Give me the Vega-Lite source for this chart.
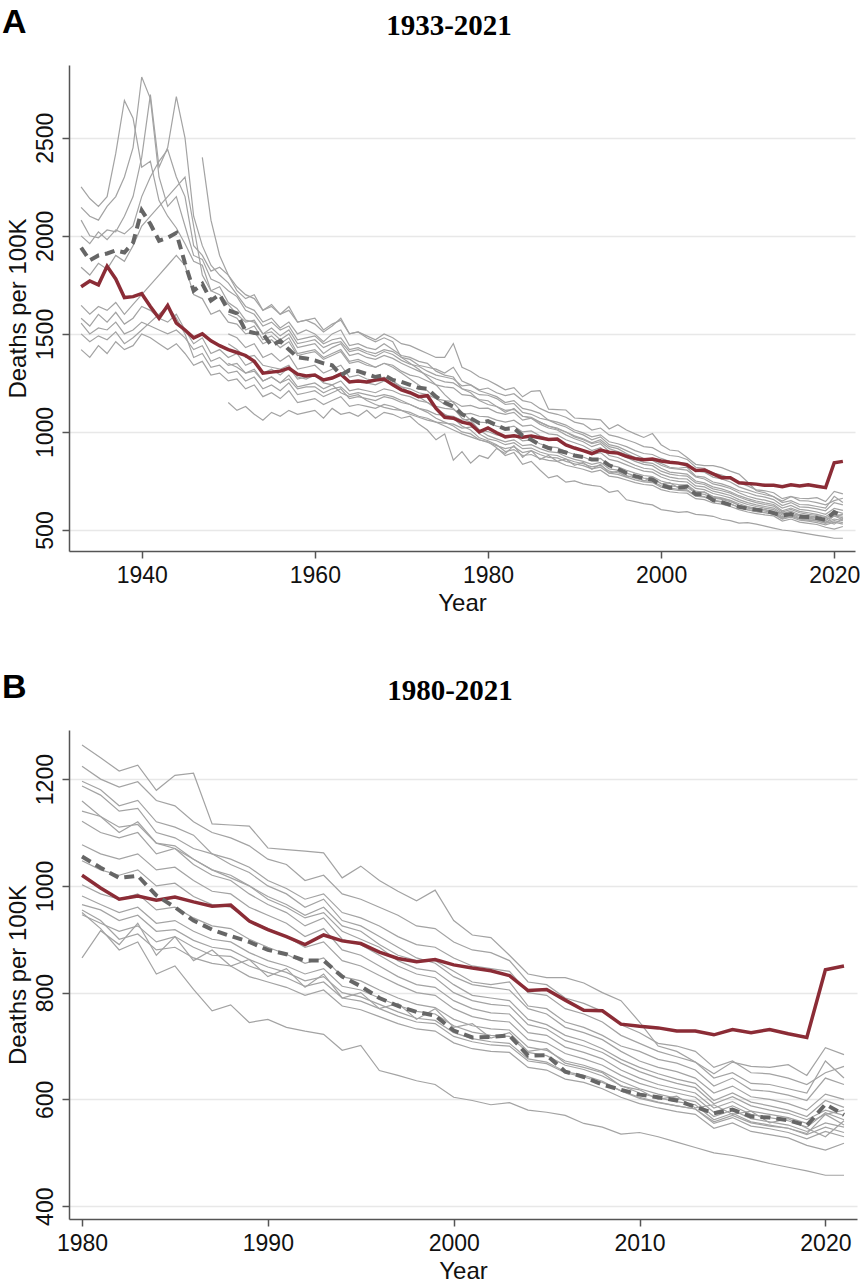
{
"$schema": "https://vega.github.io/schema/vega-lite/v6.json",
"background": "white",
"padding": {"left": 2, "top": 6, "right": 0, "bottom": 0},
"config": {
  "view": {"stroke": null},
  "font": "Liberation Sans",
  "axis": {"labelFont": "Liberation Sans", "titleFont": "Liberation Sans", "labelFontSize": 23, "titleFontSize": 24, "titleFontWeight": "normal", "labelColor": "#111111", "titleColor": "#111111", "domainColor": "#555555", "domainWidth": 1.5, "tickColor": "#555555", "tickWidth": 1.5, "tickSize": 7, "gridColor": "#e8e8e8", "gridWidth": 1.5},
  "axisY": {"labelAngle": -90, "labelAlign": "center", "labelBaseline": "bottom", "labelPadding": 5, "titlePadding": 4},
  "axisX": {"grid": false, "labelPadding": 6, "titlePadding": 4}
},
"datasets": {"d": [
{"s":"a","t":1933,"v":2250},{"s":"a","t":1934,"v":2190},{"s":"a","t":1935,"v":2150},{"s":"a","t":1936,"v":2200},{"s":"a","t":1937,"v":2420},{"s":"a","t":1938,"v":2690},{"s":"a","t":1939,"v":2600},{"s":"a","t":1940,"v":2350},{"s":"a","t":1941,"v":2380},{"s":"a","t":1942,"v":2180},{"s":"a","t":1943,"v":2100},{"s":"a","t":1944,"v":2040},{"s":"a","t":1945,"v":1960},{"s":"a","t":1946,"v":1870},{"s":"a","t":1947,"v":1850},{"s":"a","t":1948,"v":1720},{"s":"a","t":1949,"v":1740},{"s":"a","t":1950,"v":1660},{"s":"a","t":1951,"v":1630},{"s":"a","t":1952,"v":1570},{"s":"a","t":1953,"v":1560},{"s":"a","t":1954,"v":1500},{"s":"a","t":1955,"v":1530},{"s":"a","t":1956,"v":1490},{"s":"a","t":1957,"v":1520},{"s":"a","t":1958,"v":1450},{"s":"a","t":1959,"v":1460},{"s":"a","t":1960,"v":1470},{"s":"a","t":1961,"v":1430},{"s":"a","t":1962,"v":1450},{"s":"a","t":1963,"v":1460},{"s":"a","t":1964,"v":1410},{"s":"a","t":1965,"v":1420},{"s":"a","t":1966,"v":1400},{"s":"a","t":1967,"v":1385},{"s":"a","t":1968,"v":1410},{"s":"a","t":1969,"v":1395},{"s":"a","t":1970,"v":1365},{"s":"a","t":1971,"v":1345},{"s":"a","t":1972,"v":1335},{"s":"a","t":1973,"v":1310},{"s":"a","t":1974,"v":1290},{"s":"a","t":1975,"v":1280},{"s":"a","t":1976,"v":1270},{"s":"a","t":1977,"v":1235},{"s":"a","t":1978,"v":1240},{"s":"a","t":1979,"v":1215},{"s":"a","t":1980,"v":1224},{"s":"a","t":1981,"v":1200},{"s":"a","t":1982,"v":1185},{"s":"a","t":1983,"v":1195},{"s":"a","t":1984,"v":1160},{"s":"a","t":1985,"v":1150},{"s":"a","t":1986,"v":1120},{"s":"a","t":1987,"v":1100},{"s":"a","t":1988,"v":1090},{"s":"a","t":1989,"v":1075},{"s":"a","t":1990,"v":1050},{"s":"a","t":1991,"v":1040},{"s":"a","t":1992,"v":1010},{"s":"a","t":1993,"v":1020},{"s":"a","t":1994,"v":985},{"s":"a","t":1995,"v":975},{"s":"a","t":1996,"v":960},{"s":"a","t":1997,"v":945},{"s":"a","t":1998,"v":925},{"s":"a","t":1999,"v":920},{"s":"a","t":2000,"v":895},{"s":"a","t":2001,"v":880},{"s":"a","t":2002,"v":875},{"s":"a","t":2003,"v":860},{"s":"a","t":2004,"v":820},{"s":"a","t":2005,"v":815},{"s":"a","t":2006,"v":790},{"s":"a","t":2007,"v":780},{"s":"a","t":2008,"v":765},{"s":"a","t":2009,"v":740},{"s":"a","t":2010,"v":725},{"s":"a","t":2011,"v":705},{"s":"a","t":2012,"v":700},{"s":"a","t":2013,"v":690},{"s":"a","t":2014,"v":660},{"s":"a","t":2015,"v":672},{"s":"a","t":2016,"v":650},{"s":"a","t":2017,"v":648},{"s":"a","t":2018,"v":640},{"s":"a","t":2019,"v":628},{"s":"a","t":2020,"v":650},{"s":"a","t":2021,"v":662},
{"s":"b","t":1933,"v":2145},{"s":"b","t":1934,"v":2100},{"s":"b","t":1935,"v":2080},{"s":"b","t":1936,"v":2150},{"s":"b","t":1937,"v":2200},{"s":"b","t":1938,"v":2300},{"s":"b","t":1939,"v":2450},{"s":"b","t":1940,"v":2810},{"s":"b","t":1941,"v":2700},{"s":"b","t":1942,"v":2300},{"s":"b","t":1943,"v":2150},{"s":"b","t":1944,"v":2200},{"s":"b","t":1945,"v":2050},{"s":"b","t":1946,"v":1900},{"s":"b","t":1947,"v":1880},{"s":"b","t":1948,"v":1780},{"s":"b","t":1949,"v":1760},{"s":"b","t":1950,"v":1720},{"s":"b","t":1951,"v":1690},{"s":"b","t":1952,"v":1620},{"s":"b","t":1953,"v":1600},{"s":"b","t":1954,"v":1540},{"s":"b","t":1955,"v":1560},{"s":"b","t":1956,"v":1520},{"s":"b","t":1957,"v":1540},{"s":"b","t":1958,"v":1470},{"s":"b","t":1959,"v":1480},{"s":"b","t":1960,"v":1490},{"s":"b","t":1961,"v":1450},{"s":"b","t":1962,"v":1470},{"s":"b","t":1963,"v":1480},{"s":"b","t":1964,"v":1420},{"s":"b","t":1965,"v":1430},{"s":"b","t":1966,"v":1410},{"s":"b","t":1967,"v":1400},{"s":"b","t":1968,"v":1420},{"s":"b","t":1969,"v":1410},{"s":"b","t":1970,"v":1380},{"s":"b","t":1971,"v":1370},{"s":"b","t":1972,"v":1340},{"s":"b","t":1973,"v":1330},{"s":"b","t":1974,"v":1320},{"s":"b","t":1975,"v":1300},{"s":"b","t":1976,"v":1330},{"s":"b","t":1977,"v":1260},{"s":"b","t":1978,"v":1240},{"s":"b","t":1979,"v":1210},{"s":"b","t":1980,"v":1196},{"s":"b","t":1981,"v":1180},{"s":"b","t":1982,"v":1150},{"s":"b","t":1983,"v":1160},{"s":"b","t":1984,"v":1120},{"s":"b","t":1985,"v":1110},{"s":"b","t":1986,"v":1095},{"s":"b","t":1987,"v":1060},{"s":"b","t":1988,"v":1050},{"s":"b","t":1989,"v":1035},{"s":"b","t":1990,"v":1010},{"s":"b","t":1991,"v":995},{"s":"b","t":1992,"v":975},{"s":"b","t":1993,"v":985},{"s":"b","t":1994,"v":950},{"s":"b","t":1995,"v":940},{"s":"b","t":1996,"v":925},{"s":"b","t":1997,"v":905},{"s":"b","t":1998,"v":890},{"s":"b","t":1999,"v":885},{"s":"b","t":2000,"v":865},{"s":"b","t":2001,"v":850},{"s":"b","t":2002,"v":845},{"s":"b","t":2003,"v":840},{"s":"b","t":2004,"v":800},{"s":"b","t":2005,"v":795},{"s":"b","t":2006,"v":770},{"s":"b","t":2007,"v":760},{"s":"b","t":2008,"v":745},{"s":"b","t":2009,"v":720},{"s":"b","t":2010,"v":705},{"s":"b","t":2011,"v":690},{"s":"b","t":2012,"v":680},{"s":"b","t":2013,"v":670},{"s":"b","t":2014,"v":640},{"s":"b","t":2015,"v":650},{"s":"b","t":2016,"v":630},{"s":"b","t":2017,"v":628},{"s":"b","t":2018,"v":620},{"s":"b","t":2019,"v":612},{"s":"b","t":2020,"v":672},{"s":"b","t":2021,"v":640},
{"s":"c","t":1933,"v":2080},{"s":"c","t":1934,"v":2000},{"s":"c","t":1935,"v":1990},{"s":"c","t":1936,"v":2030},{"s":"c","t":1937,"v":2020},{"s":"c","t":1938,"v":2100},{"s":"c","t":1939,"v":2200},{"s":"c","t":1940,"v":2400},{"s":"c","t":1941,"v":2720},{"s":"c","t":1942,"v":2350},{"s":"c","t":1943,"v":2450},{"s":"c","t":1944,"v":2710},{"s":"c","t":1945,"v":2500},{"s":"c","t":1946,"v":2100},{"s":"c","t":1947,"v":1950},{"s":"c","t":1948,"v":1850},{"s":"c","t":1949,"v":1800},{"s":"c","t":1950,"v":1760},{"s":"c","t":1951,"v":1700},{"s":"c","t":1952,"v":1640},{"s":"c","t":1953,"v":1620},{"s":"c","t":1954,"v":1560},{"s":"c","t":1955,"v":1580},{"s":"c","t":1956,"v":1530},{"s":"c","t":1957,"v":1560},{"s":"c","t":1958,"v":1500},{"s":"c","t":1959,"v":1520},{"s":"c","t":1960,"v":1500},{"s":"c","t":1961,"v":1460},{"s":"c","t":1962,"v":1500},{"s":"c","t":1963,"v":1520},{"s":"c","t":1964,"v":1440},{"s":"c","t":1965,"v":1450},{"s":"c","t":1966,"v":1430},{"s":"c","t":1967,"v":1420},{"s":"c","t":1968,"v":1450},{"s":"c","t":1969,"v":1420},{"s":"c","t":1970,"v":1390},{"s":"c","t":1971,"v":1380},{"s":"c","t":1972,"v":1360},{"s":"c","t":1973,"v":1350},{"s":"c","t":1974,"v":1310},{"s":"c","t":1975,"v":1290},{"s":"c","t":1976,"v":1280},{"s":"c","t":1977,"v":1220},{"s":"c","t":1978,"v":1200},{"s":"c","t":1979,"v":1160},{"s":"c","t":1980,"v":1140},{"s":"c","t":1981,"v":1130},{"s":"c","t":1982,"v":1100},{"s":"c","t":1983,"v":1120},{"s":"c","t":1984,"v":1080},{"s":"c","t":1985,"v":1075},{"s":"c","t":1986,"v":1050},{"s":"c","t":1987,"v":1030},{"s":"c","t":1988,"v":1020},{"s":"c","t":1989,"v":1000},{"s":"c","t":1990,"v":980},{"s":"c","t":1991,"v":965},{"s":"c","t":1992,"v":945},{"s":"c","t":1993,"v":960},{"s":"c","t":1994,"v":925},{"s":"c","t":1995,"v":915},{"s":"c","t":1996,"v":890},{"s":"c","t":1997,"v":870},{"s":"c","t":1998,"v":860},{"s":"c","t":1999,"v":860},{"s":"c","t":2000,"v":840},{"s":"c","t":2001,"v":820},{"s":"c","t":2002,"v":815},{"s":"c","t":2003,"v":820},{"s":"c","t":2004,"v":775},{"s":"c","t":2005,"v":770},{"s":"c","t":2006,"v":745},{"s":"c","t":2007,"v":735},{"s":"c","t":2008,"v":720},{"s":"c","t":2009,"v":700},{"s":"c","t":2010,"v":690},{"s":"c","t":2011,"v":675},{"s":"c","t":2012,"v":668},{"s":"c","t":2013,"v":655},{"s":"c","t":2014,"v":625},{"s":"c","t":2015,"v":640},{"s":"c","t":2016,"v":618},{"s":"c","t":2017,"v":615},{"s":"c","t":2018,"v":608},{"s":"c","t":2019,"v":598},{"s":"c","t":2020,"v":640},{"s":"c","t":2021,"v":628},
{"s":"d","t":1933,"v":2000},{"s":"d","t":1934,"v":1960},{"s":"d","t":1935,"v":2020},{"s":"d","t":1936,"v":1980},{"s":"d","t":1937,"v":2030},{"s":"d","t":1938,"v":2010},{"s":"d","t":1939,"v":2050},{"s":"d","t":1940,"v":2200},{"s":"d","t":1941,"v":2300},{"s":"d","t":1942,"v":2380},{"s":"d","t":1943,"v":2440},{"s":"d","t":1944,"v":2300},{"s":"d","t":1945,"v":2200},{"s":"d","t":1946,"v":1950},{"s":"d","t":1947,"v":1900},{"s":"d","t":1948,"v":1820},{"s":"d","t":1949,"v":1840},{"s":"d","t":1950,"v":1800},{"s":"d","t":1951,"v":1740},{"s":"d","t":1952,"v":1700},{"s":"d","t":1953,"v":1680},{"s":"d","t":1954,"v":1620},{"s":"d","t":1955,"v":1640},{"s":"d","t":1956,"v":1600},{"s":"d","t":1957,"v":1620},{"s":"d","t":1958,"v":1560},{"s":"d","t":1959,"v":1570},{"s":"d","t":1960,"v":1550},{"s":"d","t":1961,"v":1510},{"s":"d","t":1962,"v":1540},{"s":"d","t":1963,"v":1580},{"s":"d","t":1964,"v":1500},{"s":"d","t":1965,"v":1510},{"s":"d","t":1966,"v":1490},{"s":"d","t":1967,"v":1470},{"s":"d","t":1968,"v":1500},{"s":"d","t":1969,"v":1480},{"s":"d","t":1970,"v":1450},{"s":"d","t":1971,"v":1440},{"s":"d","t":1972,"v":1420},{"s":"d","t":1973,"v":1400},{"s":"d","t":1974,"v":1380},{"s":"d","t":1975,"v":1380},{"s":"d","t":1976,"v":1451},{"s":"d","t":1977,"v":1330},{"s":"d","t":1978,"v":1310},{"s":"d","t":1979,"v":1280},{"s":"d","t":1980,"v":1264},{"s":"d","t":1981,"v":1240},{"s":"d","t":1982,"v":1215},{"s":"d","t":1983,"v":1226},{"s":"d","t":1984,"v":1179},{"s":"d","t":1985,"v":1207},{"s":"d","t":1986,"v":1211},{"s":"d","t":1987,"v":1116},{"s":"d","t":1988,"v":1114},{"s":"d","t":1989,"v":1112},{"s":"d","t":1990,"v":1071},{"s":"d","t":1991,"v":1068},{"s":"d","t":1992,"v":1065},{"s":"d","t":1993,"v":1062},{"s":"d","t":1994,"v":1015},{"s":"d","t":1995,"v":1037},{"s":"d","t":1996,"v":1010},{"s":"d","t":1997,"v":990},{"s":"d","t":1998,"v":972},{"s":"d","t":1999,"v":992},{"s":"d","t":2000,"v":935},{"s":"d","t":2001,"v":908},{"s":"d","t":2002,"v":903},{"s":"d","t":2003,"v":870},{"s":"d","t":2004,"v":835},{"s":"d","t":2005,"v":828},{"s":"d","t":2006,"v":828},{"s":"d","t":2007,"v":818},{"s":"d","t":2008,"v":800},{"s":"d","t":2009,"v":785},{"s":"d","t":2010,"v":745},{"s":"d","t":2011,"v":700},{"s":"d","t":2012,"v":690},{"s":"d","t":2013,"v":670},{"s":"d","t":2014,"v":648},{"s":"d","t":2015,"v":670},{"s":"d","t":2016,"v":662},{"s":"d","t":2017,"v":660},{"s":"d","t":2018,"v":665},{"s":"d","t":2019,"v":645},{"s":"d","t":2020,"v":697},{"s":"d","t":2021,"v":684},
{"s":"e","t":1933,"v":1840},{"s":"e","t":1934,"v":1800},{"s":"e","t":1935,"v":1860},{"s":"e","t":1936,"v":1830},{"s":"e","t":1937,"v":1900},{"s":"e","t":1938,"v":1870},{"s":"e","t":1939,"v":1950},{"s":"e","t":1940,"v":2050},{"s":"e","t":1941,"v":2100},{"s":"e","t":1942,"v":2150},{"s":"e","t":1943,"v":2200},{"s":"e","t":1944,"v":2250},{"s":"e","t":1945,"v":2300},{"s":"e","t":1946,"v":2050},{"s":"e","t":1947,"v":1800},{"s":"e","t":1948,"v":1720},{"s":"e","t":1949,"v":1700},{"s":"e","t":1950,"v":1650},{"s":"e","t":1951,"v":1600},{"s":"e","t":1952,"v":1560},{"s":"e","t":1953,"v":1570},{"s":"e","t":1954,"v":1500},{"s":"e","t":1955,"v":1510},{"s":"e","t":1956,"v":1470},{"s":"e","t":1957,"v":1500},{"s":"e","t":1958,"v":1430},{"s":"e","t":1959,"v":1440},{"s":"e","t":1960,"v":1450},{"s":"e","t":1961,"v":1400},{"s":"e","t":1962,"v":1430},{"s":"e","t":1963,"v":1450},{"s":"e","t":1964,"v":1390},{"s":"e","t":1965,"v":1400},{"s":"e","t":1966,"v":1380},{"s":"e","t":1967,"v":1370},{"s":"e","t":1968,"v":1390},{"s":"e","t":1969,"v":1375},{"s":"e","t":1970,"v":1350},{"s":"e","t":1971,"v":1330},{"s":"e","t":1972,"v":1310},{"s":"e","t":1973,"v":1290},{"s":"e","t":1974,"v":1270},{"s":"e","t":1975,"v":1255},{"s":"e","t":1976,"v":1250},{"s":"e","t":1977,"v":1220},{"s":"e","t":1978,"v":1210},{"s":"e","t":1979,"v":1190},{"s":"e","t":1980,"v":1187},{"s":"e","t":1981,"v":1170},{"s":"e","t":1982,"v":1140},{"s":"e","t":1983,"v":1145},{"s":"e","t":1984,"v":1100},{"s":"e","t":1985,"v":1090},{"s":"e","t":1986,"v":1070},{"s":"e","t":1987,"v":1060},{"s":"e","t":1988,"v":1040},{"s":"e","t":1989,"v":1025},{"s":"e","t":1990,"v":1000},{"s":"e","t":1991,"v":985},{"s":"e","t":1992,"v":960},{"s":"e","t":1993,"v":975},{"s":"e","t":1994,"v":935},{"s":"e","t":1995,"v":925},{"s":"e","t":1996,"v":905},{"s":"e","t":1997,"v":885},{"s":"e","t":1998,"v":865},{"s":"e","t":1999,"v":855},{"s":"e","t":2000,"v":830},{"s":"e","t":2001,"v":815},{"s":"e","t":2002,"v":810},{"s":"e","t":2003,"v":805},{"s":"e","t":2004,"v":770},{"s":"e","t":2005,"v":760},{"s":"e","t":2006,"v":735},{"s":"e","t":2007,"v":725},{"s":"e","t":2008,"v":712},{"s":"e","t":2009,"v":690},{"s":"e","t":2010,"v":672},{"s":"e","t":2011,"v":660},{"s":"e","t":2012,"v":652},{"s":"e","t":2013,"v":640},{"s":"e","t":2014,"v":612},{"s":"e","t":2015,"v":625},{"s":"e","t":2016,"v":605},{"s":"e","t":2017,"v":600},{"s":"e","t":2018,"v":592},{"s":"e","t":2019,"v":580},{"s":"e","t":2020,"v":610},{"s":"e","t":2021,"v":600},
{"s":"f","t":1933,"v":1645},{"s":"f","t":1934,"v":1600},{"s":"f","t":1935,"v":1640},{"s":"f","t":1936,"v":1620},{"s":"f","t":1937,"v":1660},{"s":"f","t":1938,"v":1600},{"s":"f","t":1939,"v":1650},{"s":"f","t":1940,"v":1700},{"s":"f","t":1941,"v":1750},{"s":"f","t":1942,"v":1800},{"s":"f","t":1943,"v":1850},{"s":"f","t":1944,"v":1900},{"s":"f","t":1945,"v":1850},{"s":"f","t":1946,"v":1700},{"s":"f","t":1947,"v":1680},{"s":"f","t":1948,"v":1600},{"s":"f","t":1949,"v":1620},{"s":"f","t":1950,"v":1560},{"s":"f","t":1951,"v":1550},{"s":"f","t":1952,"v":1500},{"s":"f","t":1953,"v":1510},{"s":"f","t":1954,"v":1450},{"s":"f","t":1955,"v":1470},{"s":"f","t":1956,"v":1430},{"s":"f","t":1957,"v":1460},{"s":"f","t":1958,"v":1390},{"s":"f","t":1959,"v":1400},{"s":"f","t":1960,"v":1410},{"s":"f","t":1961,"v":1370},{"s":"f","t":1962,"v":1390},{"s":"f","t":1963,"v":1410},{"s":"f","t":1964,"v":1350},{"s":"f","t":1965,"v":1360},{"s":"f","t":1966,"v":1340},{"s":"f","t":1967,"v":1330},{"s":"f","t":1968,"v":1350},{"s":"f","t":1969,"v":1340},{"s":"f","t":1970,"v":1310},{"s":"f","t":1971,"v":1290},{"s":"f","t":1972,"v":1280},{"s":"f","t":1973,"v":1260},{"s":"f","t":1974,"v":1240},{"s":"f","t":1975,"v":1230},{"s":"f","t":1976,"v":1225},{"s":"f","t":1977,"v":1190},{"s":"f","t":1978,"v":1185},{"s":"f","t":1979,"v":1165},{"s":"f","t":1980,"v":1159},{"s":"f","t":1981,"v":1130},{"s":"f","t":1982,"v":1110},{"s":"f","t":1983,"v":1115},{"s":"f","t":1984,"v":1080},{"s":"f","t":1985,"v":1070},{"s":"f","t":1986,"v":1050},{"s":"f","t":1987,"v":1030},{"s":"f","t":1988,"v":1015},{"s":"f","t":1989,"v":1000},{"s":"f","t":1990,"v":975},{"s":"f","t":1991,"v":960},{"s":"f","t":1992,"v":940},{"s":"f","t":1993,"v":950},{"s":"f","t":1994,"v":915},{"s":"f","t":1995,"v":900},{"s":"f","t":1996,"v":885},{"s":"f","t":1997,"v":860},{"s":"f","t":1998,"v":845},{"s":"f","t":1999,"v":840},{"s":"f","t":2000,"v":815},{"s":"f","t":2001,"v":795},{"s":"f","t":2002,"v":790},{"s":"f","t":2003,"v":785},{"s":"f","t":2004,"v":750},{"s":"f","t":2005,"v":740},{"s":"f","t":2006,"v":720},{"s":"f","t":2007,"v":710},{"s":"f","t":2008,"v":695},{"s":"f","t":2009,"v":675},{"s":"f","t":2010,"v":660},{"s":"f","t":2011,"v":648},{"s":"f","t":2012,"v":638},{"s":"f","t":2013,"v":630},{"s":"f","t":2014,"v":598},{"s":"f","t":2015,"v":612},{"s":"f","t":2016,"v":595},{"s":"f","t":2017,"v":588},{"s":"f","t":2018,"v":580},{"s":"f","t":2019,"v":568},{"s":"f","t":2020,"v":598},{"s":"f","t":2021,"v":585},
{"s":"g","t":1933,"v":1580},{"s":"g","t":1934,"v":1540},{"s":"g","t":1935,"v":1600},{"s":"g","t":1936,"v":1560},{"s":"g","t":1937,"v":1610},{"s":"g","t":1938,"v":1550},{"s":"g","t":1939,"v":1580},{"s":"g","t":1940,"v":1640},{"s":"g","t":1941,"v":1620},{"s":"g","t":1942,"v":1580},{"s":"g","t":1943,"v":1560},{"s":"g","t":1944,"v":1600},{"s":"g","t":1945,"v":1520},{"s":"g","t":1946,"v":1450},{"s":"g","t":1947,"v":1480},{"s":"g","t":1948,"v":1400},{"s":"g","t":1949,"v":1420},{"s":"g","t":1950,"v":1380},{"s":"g","t":1951,"v":1400},{"s":"g","t":1952,"v":1340},{"s":"g","t":1953,"v":1360},{"s":"g","t":1954,"v":1300},{"s":"g","t":1955,"v":1320},{"s":"g","t":1956,"v":1290},{"s":"g","t":1957,"v":1330},{"s":"g","t":1958,"v":1270},{"s":"g","t":1959,"v":1280},{"s":"g","t":1960,"v":1290},{"s":"g","t":1961,"v":1260},{"s":"g","t":1962,"v":1280},{"s":"g","t":1963,"v":1300},{"s":"g","t":1964,"v":1250},{"s":"g","t":1965,"v":1260},{"s":"g","t":1966,"v":1250},{"s":"g","t":1967,"v":1240},{"s":"g","t":1968,"v":1260},{"s":"g","t":1969,"v":1250},{"s":"g","t":1970,"v":1230},{"s":"g","t":1971,"v":1220},{"s":"g","t":1972,"v":1200},{"s":"g","t":1973,"v":1190},{"s":"g","t":1974,"v":1170},{"s":"g","t":1975,"v":1160},{"s":"g","t":1976,"v":1155},{"s":"g","t":1977,"v":1130},{"s":"g","t":1978,"v":1135},{"s":"g","t":1979,"v":1120},{"s":"g","t":1980,"v":1121},{"s":"g","t":1981,"v":1100},{"s":"g","t":1982,"v":1090},{"s":"g","t":1983,"v":1100},{"s":"g","t":1984,"v":1060},{"s":"g","t":1985,"v":1070},{"s":"g","t":1986,"v":1040},{"s":"g","t":1987,"v":1020},{"s":"g","t":1988,"v":1010},{"s":"g","t":1989,"v":985},{"s":"g","t":1990,"v":965},{"s":"g","t":1991,"v":950},{"s":"g","t":1992,"v":925},{"s":"g","t":1993,"v":940},{"s":"g","t":1994,"v":900},{"s":"g","t":1995,"v":890},{"s":"g","t":1996,"v":870},{"s":"g","t":1997,"v":850},{"s":"g","t":1998,"v":835},{"s":"g","t":1999,"v":828},{"s":"g","t":2000,"v":800},{"s":"g","t":2001,"v":785},{"s":"g","t":2002,"v":778},{"s":"g","t":2003,"v":775},{"s":"g","t":2004,"v":740},{"s":"g","t":2005,"v":732},{"s":"g","t":2006,"v":710},{"s":"g","t":2007,"v":700},{"s":"g","t":2008,"v":688},{"s":"g","t":2009,"v":668},{"s":"g","t":2010,"v":652},{"s":"g","t":2011,"v":640},{"s":"g","t":2012,"v":630},{"s":"g","t":2013,"v":622},{"s":"g","t":2014,"v":592},{"s":"g","t":2015,"v":605},{"s":"g","t":2016,"v":588},{"s":"g","t":2017,"v":580},{"s":"g","t":2018,"v":574},{"s":"g","t":2019,"v":562},{"s":"g","t":2020,"v":580},{"s":"g","t":2021,"v":570},
{"s":"h","t":1933,"v":1555},{"s":"h","t":1934,"v":1500},{"s":"h","t":1935,"v":1530},{"s":"h","t":1936,"v":1520},{"s":"h","t":1937,"v":1560},{"s":"h","t":1938,"v":1500},{"s":"h","t":1939,"v":1520},{"s":"h","t":1940,"v":1560},{"s":"h","t":1941,"v":1540},{"s":"h","t":1942,"v":1520},{"s":"h","t":1943,"v":1500},{"s":"h","t":1944,"v":1520},{"s":"h","t":1945,"v":1480},{"s":"h","t":1946,"v":1420},{"s":"h","t":1947,"v":1440},{"s":"h","t":1948,"v":1360},{"s":"h","t":1949,"v":1380},{"s":"h","t":1950,"v":1340},{"s":"h","t":1951,"v":1350},{"s":"h","t":1952,"v":1300},{"s":"h","t":1953,"v":1320},{"s":"h","t":1954,"v":1260},{"s":"h","t":1955,"v":1280},{"s":"h","t":1956,"v":1250},{"s":"h","t":1957,"v":1290},{"s":"h","t":1958,"v":1230},{"s":"h","t":1959,"v":1240},{"s":"h","t":1960,"v":1250},{"s":"h","t":1961,"v":1220},{"s":"h","t":1962,"v":1240},{"s":"h","t":1963,"v":1260},{"s":"h","t":1964,"v":1210},{"s":"h","t":1965,"v":1220},{"s":"h","t":1966,"v":1210},{"s":"h","t":1967,"v":1200},{"s":"h","t":1968,"v":1220},{"s":"h","t":1969,"v":1210},{"s":"h","t":1970,"v":1190},{"s":"h","t":1971,"v":1180},{"s":"h","t":1972,"v":1160},{"s":"h","t":1973,"v":1150},{"s":"h","t":1974,"v":1130},{"s":"h","t":1975,"v":1120},{"s":"h","t":1976,"v":1115},{"s":"h","t":1977,"v":1090},{"s":"h","t":1978,"v":1095},{"s":"h","t":1979,"v":1080},{"s":"h","t":1980,"v":1077},{"s":"h","t":1981,"v":1060},{"s":"h","t":1982,"v":1050},{"s":"h","t":1983,"v":1060},{"s":"h","t":1984,"v":1030},{"s":"h","t":1985,"v":1035},{"s":"h","t":1986,"v":1010},{"s":"h","t":1987,"v":990},{"s":"h","t":1988,"v":985},{"s":"h","t":1989,"v":960},{"s":"h","t":1990,"v":945},{"s":"h","t":1991,"v":930},{"s":"h","t":1992,"v":905},{"s":"h","t":1993,"v":920},{"s":"h","t":1994,"v":880},{"s":"h","t":1995,"v":870},{"s":"h","t":1996,"v":850},{"s":"h","t":1997,"v":830},{"s":"h","t":1998,"v":815},{"s":"h","t":1999,"v":810},{"s":"h","t":2000,"v":785},{"s":"h","t":2001,"v":770},{"s":"h","t":2002,"v":762},{"s":"h","t":2003,"v":760},{"s":"h","t":2004,"v":725},{"s":"h","t":2005,"v":720},{"s":"h","t":2006,"v":698},{"s":"h","t":2007,"v":688},{"s":"h","t":2008,"v":676},{"s":"h","t":2009,"v":655},{"s":"h","t":2010,"v":640},{"s":"h","t":2011,"v":628},{"s":"h","t":2012,"v":620},{"s":"h","t":2013,"v":612},{"s":"h","t":2014,"v":584},{"s":"h","t":2015,"v":596},{"s":"h","t":2016,"v":578},{"s":"h","t":2017,"v":572},{"s":"h","t":2018,"v":566},{"s":"h","t":2019,"v":555},{"s":"h","t":2020,"v":572},{"s":"h","t":2021,"v":580},
{"s":"i","t":1933,"v":1500},{"s":"i","t":1934,"v":1460},{"s":"i","t":1935,"v":1490},{"s":"i","t":1936,"v":1470},{"s":"i","t":1937,"v":1510},{"s":"i","t":1938,"v":1450},{"s":"i","t":1939,"v":1480},{"s":"i","t":1940,"v":1520},{"s":"i","t":1941,"v":1560},{"s":"i","t":1942,"v":1600},{"s":"i","t":1943,"v":1640},{"s":"i","t":1944,"v":1580},{"s":"i","t":1945,"v":1500},{"s":"i","t":1946,"v":1380},{"s":"i","t":1947,"v":1400},{"s":"i","t":1948,"v":1330},{"s":"i","t":1949,"v":1340},{"s":"i","t":1950,"v":1300},{"s":"i","t":1951,"v":1310},{"s":"i","t":1952,"v":1260},{"s":"i","t":1953,"v":1280},{"s":"i","t":1954,"v":1220},{"s":"i","t":1955,"v":1240},{"s":"i","t":1956,"v":1210},{"s":"i","t":1957,"v":1250},{"s":"i","t":1958,"v":1190},{"s":"i","t":1959,"v":1200},{"s":"i","t":1960,"v":1210},{"s":"i","t":1961,"v":1180},{"s":"i","t":1962,"v":1200},{"s":"i","t":1963,"v":1220},{"s":"i","t":1964,"v":1170},{"s":"i","t":1965,"v":1180},{"s":"i","t":1966,"v":1170},{"s":"i","t":1967,"v":1160},{"s":"i","t":1968,"v":1180},{"s":"i","t":1969,"v":1170},{"s":"i","t":1970,"v":1150},{"s":"i","t":1971,"v":1140},{"s":"i","t":1972,"v":1120},{"s":"i","t":1973,"v":1110},{"s":"i","t":1974,"v":1090},{"s":"i","t":1975,"v":1085},{"s":"i","t":1976,"v":1080},{"s":"i","t":1977,"v":1060},{"s":"i","t":1978,"v":1065},{"s":"i","t":1979,"v":1050},{"s":"i","t":1980,"v":1047},{"s":"i","t":1981,"v":1030},{"s":"i","t":1982,"v":1020},{"s":"i","t":1983,"v":1030},{"s":"i","t":1984,"v":1000},{"s":"i","t":1985,"v":1005},{"s":"i","t":1986,"v":980},{"s":"i","t":1987,"v":965},{"s":"i","t":1988,"v":960},{"s":"i","t":1989,"v":935},{"s":"i","t":1990,"v":920},{"s":"i","t":1991,"v":905},{"s":"i","t":1992,"v":885},{"s":"i","t":1993,"v":895},{"s":"i","t":1994,"v":860},{"s":"i","t":1995,"v":850},{"s":"i","t":1996,"v":832},{"s":"i","t":1997,"v":815},{"s":"i","t":1998,"v":800},{"s":"i","t":1999,"v":795},{"s":"i","t":2000,"v":770},{"s":"i","t":2001,"v":755},{"s":"i","t":2002,"v":748},{"s":"i","t":2003,"v":745},{"s":"i","t":2004,"v":712},{"s":"i","t":2005,"v":706},{"s":"i","t":2006,"v":686},{"s":"i","t":2007,"v":676},{"s":"i","t":2008,"v":664},{"s":"i","t":2009,"v":645},{"s":"i","t":2010,"v":630},{"s":"i","t":2011,"v":620},{"s":"i","t":2012,"v":612},{"s":"i","t":2013,"v":604},{"s":"i","t":2014,"v":576},{"s":"i","t":2015,"v":588},{"s":"i","t":2016,"v":572},{"s":"i","t":2017,"v":566},{"s":"i","t":2018,"v":560},{"s":"i","t":2019,"v":548},{"s":"i","t":2020,"v":575},{"s":"i","t":2021,"v":562},
{"s":"j","t":1933,"v":1420},{"s":"j","t":1934,"v":1380},{"s":"j","t":1935,"v":1440},{"s":"j","t":1936,"v":1400},{"s":"j","t":1937,"v":1460},{"s":"j","t":1938,"v":1420},{"s":"j","t":1939,"v":1440},{"s":"j","t":1940,"v":1500},{"s":"j","t":1941,"v":1480},{"s":"j","t":1942,"v":1450},{"s":"j","t":1943,"v":1420},{"s":"j","t":1944,"v":1450},{"s":"j","t":1945,"v":1400},{"s":"j","t":1946,"v":1340},{"s":"j","t":1947,"v":1360},{"s":"j","t":1948,"v":1290},{"s":"j","t":1949,"v":1300},{"s":"j","t":1950,"v":1260},{"s":"j","t":1951,"v":1270},{"s":"j","t":1952,"v":1220},{"s":"j","t":1953,"v":1240},{"s":"j","t":1954,"v":1180},{"s":"j","t":1955,"v":1200},{"s":"j","t":1956,"v":1170},{"s":"j","t":1957,"v":1210},{"s":"j","t":1958,"v":1150},{"s":"j","t":1959,"v":1160},{"s":"j","t":1960,"v":1170},{"s":"j","t":1961,"v":1140},{"s":"j","t":1962,"v":1160},{"s":"j","t":1963,"v":1180},{"s":"j","t":1964,"v":1130},{"s":"j","t":1965,"v":1140},{"s":"j","t":1966,"v":1130},{"s":"j","t":1967,"v":1120},{"s":"j","t":1968,"v":1140},{"s":"j","t":1969,"v":1130},{"s":"j","t":1970,"v":1110},{"s":"j","t":1971,"v":1100},{"s":"j","t":1972,"v":1080},{"s":"j","t":1973,"v":1070},{"s":"j","t":1974,"v":1050},{"s":"j","t":1975,"v":1045},{"s":"j","t":1976,"v":1040},{"s":"j","t":1977,"v":1020},{"s":"j","t":1978,"v":1025},{"s":"j","t":1979,"v":1010},{"s":"j","t":1980,"v":1002},{"s":"j","t":1981,"v":985},{"s":"j","t":1982,"v":975},{"s":"j","t":1983,"v":985},{"s":"j","t":1984,"v":955},{"s":"j","t":1985,"v":960},{"s":"j","t":1986,"v":940},{"s":"j","t":1987,"v":925},{"s":"j","t":1988,"v":920},{"s":"j","t":1989,"v":900},{"s":"j","t":1990,"v":885},{"s":"j","t":1991,"v":872},{"s":"j","t":1992,"v":855},{"s":"j","t":1993,"v":865},{"s":"j","t":1994,"v":830},{"s":"j","t":1995,"v":822},{"s":"j","t":1996,"v":805},{"s":"j","t":1997,"v":790},{"s":"j","t":1998,"v":778},{"s":"j","t":1999,"v":772},{"s":"j","t":2000,"v":750},{"s":"j","t":2001,"v":738},{"s":"j","t":2002,"v":732},{"s":"j","t":2003,"v":730},{"s":"j","t":2004,"v":698},{"s":"j","t":2005,"v":692},{"s":"j","t":2006,"v":672},{"s":"j","t":2007,"v":664},{"s":"j","t":2008,"v":652},{"s":"j","t":2009,"v":634},{"s":"j","t":2010,"v":620},{"s":"j","t":2011,"v":610},{"s":"j","t":2012,"v":602},{"s":"j","t":2013,"v":596},{"s":"j","t":2014,"v":568},{"s":"j","t":2015,"v":580},{"s":"j","t":2016,"v":564},{"s":"j","t":2017,"v":558},{"s":"j","t":2018,"v":552},{"s":"j","t":2019,"v":540},{"s":"j","t":2020,"v":556},{"s":"j","t":2021,"v":548},
{"s":"k","t":1947,"v":2400},{"s":"k","t":1948,"v":2080},{"s":"k","t":1949,"v":1900},{"s":"k","t":1950,"v":1800},{"s":"k","t":1951,"v":1720},{"s":"k","t":1952,"v":1680},{"s":"k","t":1953,"v":1700},{"s":"k","t":1954,"v":1620},{"s":"k","t":1955,"v":1650},{"s":"k","t":1956,"v":1600},{"s":"k","t":1957,"v":1640},{"s":"k","t":1958,"v":1560},{"s":"k","t":1959,"v":1570},{"s":"k","t":1960,"v":1580},{"s":"k","t":1961,"v":1520},{"s":"k","t":1962,"v":1550},{"s":"k","t":1963,"v":1570},{"s":"k","t":1964,"v":1500},{"s":"k","t":1965,"v":1510},{"s":"k","t":1966,"v":1480},{"s":"k","t":1967,"v":1460},{"s":"k","t":1968,"v":1480},{"s":"k","t":1969,"v":1460},{"s":"k","t":1970,"v":1380},{"s":"k","t":1971,"v":1350},{"s":"k","t":1972,"v":1320},{"s":"k","t":1973,"v":1280},{"s":"k","t":1974,"v":1240},{"s":"k","t":1975,"v":1190},{"s":"k","t":1976,"v":1150},{"s":"k","t":1977,"v":1100},{"s":"k","t":1978,"v":1060},{"s":"k","t":1979,"v":1010},{"s":"k","t":1980,"v":981},{"s":"k","t":1981,"v":965},{"s":"k","t":1982,"v":950},{"s":"k","t":1983,"v":960},{"s":"k","t":1984,"v":930},{"s":"k","t":1985,"v":935},{"s":"k","t":1986,"v":915},{"s":"k","t":1987,"v":900},{"s":"k","t":1988,"v":895},{"s":"k","t":1989,"v":875},{"s":"k","t":1990,"v":860},{"s":"k","t":1991,"v":850},{"s":"k","t":1992,"v":835},{"s":"k","t":1993,"v":845},{"s":"k","t":1994,"v":812},{"s":"k","t":1995,"v":805},{"s":"k","t":1996,"v":790},{"s":"k","t":1997,"v":776},{"s":"k","t":1998,"v":765},{"s":"k","t":1999,"v":760},{"s":"k","t":2000,"v":738},{"s":"k","t":2001,"v":726},{"s":"k","t":2002,"v":720},{"s":"k","t":2003,"v":718},{"s":"k","t":2004,"v":688},{"s":"k","t":2005,"v":682},{"s":"k","t":2006,"v":664},{"s":"k","t":2007,"v":656},{"s":"k","t":2008,"v":644},{"s":"k","t":2009,"v":626},{"s":"k","t":2010,"v":612},{"s":"k","t":2011,"v":603},{"s":"k","t":2012,"v":596},{"s":"k","t":2013,"v":590},{"s":"k","t":2014,"v":562},{"s":"k","t":2015,"v":574},{"s":"k","t":2016,"v":558},{"s":"k","t":2017,"v":552},{"s":"k","t":2018,"v":546},{"s":"k","t":2019,"v":534},{"s":"k","t":2020,"v":548},{"s":"k","t":2021,"v":538},
{"s":"l","t":1950,"v":1600},{"s":"l","t":1951,"v":1580},{"s":"l","t":1952,"v":1520},{"s":"l","t":1953,"v":1540},{"s":"l","t":1954,"v":1470},{"s":"l","t":1955,"v":1490},{"s":"l","t":1956,"v":1450},{"s":"l","t":1957,"v":1480},{"s":"l","t":1958,"v":1400},{"s":"l","t":1959,"v":1410},{"s":"l","t":1960,"v":1420},{"s":"l","t":1961,"v":1380},{"s":"l","t":1962,"v":1400},{"s":"l","t":1963,"v":1420},{"s":"l","t":1964,"v":1360},{"s":"l","t":1965,"v":1370},{"s":"l","t":1966,"v":1350},{"s":"l","t":1967,"v":1330},{"s":"l","t":1968,"v":1350},{"s":"l","t":1969,"v":1330},{"s":"l","t":1970,"v":1300},{"s":"l","t":1971,"v":1270},{"s":"l","t":1972,"v":1240},{"s":"l","t":1973,"v":1210},{"s":"l","t":1974,"v":1170},{"s":"l","t":1975,"v":1140},{"s":"l","t":1976,"v":1120},{"s":"l","t":1977,"v":1070},{"s":"l","t":1978,"v":1050},{"s":"l","t":1979,"v":990},{"s":"l","t":1980,"v":965},{"s":"l","t":1981,"v":955},{"s":"l","t":1982,"v":935},{"s":"l","t":1983,"v":945},{"s":"l","t":1984,"v":915},{"s":"l","t":1985,"v":918},{"s":"l","t":1986,"v":898},{"s":"l","t":1987,"v":885},{"s":"l","t":1988,"v":880},{"s":"l","t":1989,"v":862},{"s":"l","t":1990,"v":848},{"s":"l","t":1991,"v":838},{"s":"l","t":1992,"v":822},{"s":"l","t":1993,"v":830},{"s":"l","t":1994,"v":800},{"s":"l","t":1995,"v":792},{"s":"l","t":1996,"v":778},{"s":"l","t":1997,"v":764},{"s":"l","t":1998,"v":752},{"s":"l","t":1999,"v":748},{"s":"l","t":2000,"v":725},{"s":"l","t":2001,"v":714},{"s":"l","t":2002,"v":708},{"s":"l","t":2003,"v":705},{"s":"l","t":2004,"v":676},{"s":"l","t":2005,"v":670},{"s":"l","t":2006,"v":652},{"s":"l","t":2007,"v":645},{"s":"l","t":2008,"v":634},{"s":"l","t":2009,"v":616},{"s":"l","t":2010,"v":604},{"s":"l","t":2011,"v":595},{"s":"l","t":2012,"v":588},{"s":"l","t":2013,"v":582},{"s":"l","t":2014,"v":555},{"s":"l","t":2015,"v":566},{"s":"l","t":2016,"v":550},{"s":"l","t":2017,"v":545},{"s":"l","t":2018,"v":538},{"s":"l","t":2019,"v":526},{"s":"l","t":2020,"v":540},{"s":"l","t":2021,"v":530},
{"s":"m","t":1950,"v":1500},{"s":"m","t":1951,"v":1480},{"s":"m","t":1952,"v":1430},{"s":"m","t":1953,"v":1450},{"s":"m","t":1954,"v":1380},{"s":"m","t":1955,"v":1400},{"s":"m","t":1956,"v":1360},{"s":"m","t":1957,"v":1390},{"s":"m","t":1958,"v":1320},{"s":"m","t":1959,"v":1330},{"s":"m","t":1960,"v":1340},{"s":"m","t":1961,"v":1300},{"s":"m","t":1962,"v":1320},{"s":"m","t":1963,"v":1340},{"s":"m","t":1964,"v":1280},{"s":"m","t":1965,"v":1290},{"s":"m","t":1966,"v":1270},{"s":"m","t":1967,"v":1260},{"s":"m","t":1968,"v":1280},{"s":"m","t":1969,"v":1260},{"s":"m","t":1970,"v":1230},{"s":"m","t":1971,"v":1200},{"s":"m","t":1972,"v":1180},{"s":"m","t":1973,"v":1150},{"s":"m","t":1974,"v":1120},{"s":"m","t":1975,"v":1090},{"s":"m","t":1976,"v":1070},{"s":"m","t":1977,"v":1030},{"s":"m","t":1978,"v":1010},{"s":"m","t":1979,"v":970},{"s":"m","t":1980,"v":955},{"s":"m","t":1981,"v":935},{"s":"m","t":1982,"v":900},{"s":"m","t":1983,"v":910},{"s":"m","t":1984,"v":880},{"s":"m","t":1985,"v":885},{"s":"m","t":1986,"v":865},{"s":"m","t":1987,"v":855},{"s":"m","t":1988,"v":850},{"s":"m","t":1989,"v":830},{"s":"m","t":1990,"v":820},{"s":"m","t":1991,"v":810},{"s":"m","t":1992,"v":795},{"s":"m","t":1993,"v":805},{"s":"m","t":1994,"v":775},{"s":"m","t":1995,"v":768},{"s":"m","t":1996,"v":755},{"s":"m","t":1997,"v":742},{"s":"m","t":1998,"v":732},{"s":"m","t":1999,"v":728},{"s":"m","t":2000,"v":706},{"s":"m","t":2001,"v":695},{"s":"m","t":2002,"v":690},{"s":"m","t":2003,"v":688},{"s":"m","t":2004,"v":660},{"s":"m","t":2005,"v":655},{"s":"m","t":2006,"v":638},{"s":"m","t":2007,"v":632},{"s":"m","t":2008,"v":620},{"s":"m","t":2009,"v":604},{"s":"m","t":2010,"v":592},{"s":"m","t":2011,"v":584},{"s":"m","t":2012,"v":577},{"s":"m","t":2013,"v":572},{"s":"m","t":2014,"v":546},{"s":"m","t":2015,"v":556},{"s":"m","t":2016,"v":540},{"s":"m","t":2017,"v":534},{"s":"m","t":2018,"v":528},{"s":"m","t":2019,"v":514},{"s":"m","t":2020,"v":505},{"s":"m","t":2021,"v":518},
{"s":"n","t":1950,"v":1350},{"s":"n","t":1951,"v":1330},{"s":"n","t":1952,"v":1300},{"s":"n","t":1953,"v":1310},{"s":"n","t":1954,"v":1260},{"s":"n","t":1955,"v":1280},{"s":"n","t":1956,"v":1250},{"s":"n","t":1957,"v":1270},{"s":"n","t":1958,"v":1220},{"s":"n","t":1959,"v":1230},{"s":"n","t":1960,"v":1230},{"s":"n","t":1961,"v":1200},{"s":"n","t":1962,"v":1220},{"s":"n","t":1963,"v":1230},{"s":"n","t":1964,"v":1190},{"s":"n","t":1965,"v":1200},{"s":"n","t":1966,"v":1190},{"s":"n","t":1967,"v":1180},{"s":"n","t":1968,"v":1190},{"s":"n","t":1969,"v":1180},{"s":"n","t":1970,"v":1160},{"s":"n","t":1971,"v":1140},{"s":"n","t":1972,"v":1120},{"s":"n","t":1973,"v":1100},{"s":"n","t":1974,"v":1070},{"s":"n","t":1975,"v":1050},{"s":"n","t":1976,"v":1030},{"s":"n","t":1977,"v":1000},{"s":"n","t":1978,"v":990},{"s":"n","t":1979,"v":960},{"s":"n","t":1980,"v":946},{"s":"n","t":1981,"v":930},{"s":"n","t":1982,"v":915},{"s":"n","t":1983,"v":925},{"s":"n","t":1984,"v":895},{"s":"n","t":1985,"v":905},{"s":"n","t":1986,"v":885},{"s":"n","t":1987,"v":870},{"s":"n","t":1988,"v":868},{"s":"n","t":1989,"v":850},{"s":"n","t":1990,"v":838},{"s":"n","t":1991,"v":828},{"s":"n","t":1992,"v":812},{"s":"n","t":1993,"v":820},{"s":"n","t":1994,"v":790},{"s":"n","t":1995,"v":784},{"s":"n","t":1996,"v":770},{"s":"n","t":1997,"v":756},{"s":"n","t":1998,"v":745},{"s":"n","t":1999,"v":742},{"s":"n","t":2000,"v":718},{"s":"n","t":2001,"v":708},{"s":"n","t":2002,"v":702},{"s":"n","t":2003,"v":700},{"s":"n","t":2004,"v":672},{"s":"n","t":2005,"v":667},{"s":"n","t":2006,"v":650},{"s":"n","t":2007,"v":642},{"s":"n","t":2008,"v":632},{"s":"n","t":2009,"v":616},{"s":"n","t":2010,"v":602},{"s":"n","t":2011,"v":594},{"s":"n","t":2012,"v":588},{"s":"n","t":2013,"v":582},{"s":"n","t":2014,"v":558},{"s":"n","t":2015,"v":570},{"s":"n","t":2016,"v":556},{"s":"n","t":2017,"v":550},{"s":"n","t":2018,"v":546},{"s":"n","t":2019,"v":536},{"s":"n","t":2020,"v":572},{"s":"n","t":2021,"v":552},
{"s":"o","t":1950,"v":1150},{"s":"o","t":1951,"v":1110},{"s":"o","t":1952,"v":1130},{"s":"o","t":1953,"v":1090},{"s":"o","t":1954,"v":1060},{"s":"o","t":1955,"v":1100},{"s":"o","t":1956,"v":1080},{"s":"o","t":1957,"v":1110},{"s":"o","t":1958,"v":1090},{"s":"o","t":1959,"v":1100},{"s":"o","t":1960,"v":1110},{"s":"o","t":1961,"v":1070},{"s":"o","t":1962,"v":1120},{"s":"o","t":1963,"v":1090},{"s":"o","t":1964,"v":1100},{"s":"o","t":1965,"v":1080},{"s":"o","t":1966,"v":1110},{"s":"o","t":1967,"v":1070},{"s":"o","t":1968,"v":1100},{"s":"o","t":1969,"v":1090},{"s":"o","t":1970,"v":1070},{"s":"o","t":1971,"v":1080},{"s":"o","t":1972,"v":1040},{"s":"o","t":1973,"v":1010},{"s":"o","t":1974,"v":960},{"s":"o","t":1975,"v":990},{"s":"o","t":1976,"v":856},{"s":"o","t":1977,"v":900},{"s":"o","t":1978,"v":841},{"s":"o","t":1979,"v":880},{"s":"o","t":1980,"v":865},{"s":"o","t":1981,"v":916},{"s":"o","t":1982,"v":890},{"s":"o","t":1983,"v":930},{"s":"o","t":1984,"v":870},{"s":"o","t":1985,"v":905},{"s":"o","t":1986,"v":860},{"s":"o","t":1987,"v":880},{"s":"o","t":1988,"v":850},{"s":"o","t":1989,"v":862},{"s":"o","t":1990,"v":830},{"s":"o","t":1991,"v":845},{"s":"o","t":1992,"v":810},{"s":"o","t":1993,"v":835},{"s":"o","t":1994,"v":790},{"s":"o","t":1995,"v":800},{"s":"o","t":1996,"v":770},{"s":"o","t":1997,"v":780},{"s":"o","t":1998,"v":750},{"s":"o","t":1999,"v":770},{"s":"o","t":2000,"v":735},{"s":"o","t":2001,"v":742},{"s":"o","t":2002,"v":715},{"s":"o","t":2003,"v":725},{"s":"o","t":2004,"v":690},{"s":"o","t":2005,"v":695},{"s":"o","t":2006,"v":668},{"s":"o","t":2007,"v":660},{"s":"o","t":2008,"v":650},{"s":"o","t":2009,"v":625},{"s":"o","t":2010,"v":618},{"s":"o","t":2011,"v":600},{"s":"o","t":2012,"v":606},{"s":"o","t":2013,"v":584},{"s":"o","t":2014,"v":590},{"s":"o","t":2015,"v":572},{"s":"o","t":2016,"v":578},{"s":"o","t":2017,"v":556},{"s":"o","t":2018,"v":564},{"s":"o","t":2019,"v":546},{"s":"o","t":2020,"v":530},{"s":"o","t":2021,"v":560},
{"s":"p","t":1950,"v":1450},{"s":"p","t":1951,"v":1420},{"s":"p","t":1952,"v":1380},{"s":"p","t":1953,"v":1390},{"s":"p","t":1954,"v":1340},{"s":"p","t":1955,"v":1330},{"s":"p","t":1956,"v":1320},{"s":"p","t":1957,"v":1340},{"s":"p","t":1958,"v":1280},{"s":"p","t":1959,"v":1270},{"s":"p","t":1960,"v":1290},{"s":"p","t":1961,"v":1250},{"s":"p","t":1962,"v":1240},{"s":"p","t":1963,"v":1200},{"s":"p","t":1964,"v":1180},{"s":"p","t":1965,"v":1190},{"s":"p","t":1966,"v":1160},{"s":"p","t":1967,"v":1140},{"s":"p","t":1968,"v":1125},{"s":"p","t":1969,"v":1115},{"s":"p","t":1970,"v":1110},{"s":"p","t":1971,"v":1090},{"s":"p","t":1972,"v":1075},{"s":"p","t":1973,"v":1060},{"s":"p","t":1974,"v":1050},{"s":"p","t":1975,"v":1030},{"s":"p","t":1976,"v":1010},{"s":"p","t":1977,"v":990},{"s":"p","t":1978,"v":975},{"s":"p","t":1979,"v":960},{"s":"p","t":1980,"v":950},{"s":"p","t":1981,"v":920},{"s":"p","t":1982,"v":880},{"s":"p","t":1983,"v":895},{"s":"p","t":1984,"v":835},{"s":"p","t":1985,"v":850},{"s":"p","t":1986,"v":806},{"s":"p","t":1987,"v":766},{"s":"p","t":1988,"v":777},{"s":"p","t":1989,"v":744},{"s":"p","t":1990,"v":750},{"s":"p","t":1991,"v":735},{"s":"p","t":1992,"v":728},{"s":"p","t":1993,"v":722},{"s":"p","t":1994,"v":692},{"s":"p","t":1995,"v":701},{"s":"p","t":1996,"v":654},{"s":"p","t":1997,"v":645},{"s":"p","t":1998,"v":635},{"s":"p","t":1999,"v":628},{"s":"p","t":2000,"v":604},{"s":"p","t":2001,"v":598},{"s":"p","t":2002,"v":590},{"s":"p","t":2003,"v":594},{"s":"p","t":2004,"v":580},{"s":"p","t":2005,"v":576},{"s":"p","t":2006,"v":570},{"s":"p","t":2007,"v":555},{"s":"p","t":2008,"v":548},{"s":"p","t":2009,"v":535},{"s":"p","t":2010,"v":538},{"s":"p","t":2011,"v":530},{"s":"p","t":2012,"v":520},{"s":"p","t":2013,"v":510},{"s":"p","t":2014,"v":500},{"s":"p","t":2015,"v":495},{"s":"p","t":2016,"v":488},{"s":"p","t":2017,"v":480},{"s":"p","t":2018,"v":473},{"s":"p","t":2019,"v":466},{"s":"p","t":2020,"v":458},{"s":"p","t":2021,"v":458},
{"s":"US","t":1933,"v":1740},{"s":"US","t":1934,"v":1770},{"s":"US","t":1935,"v":1750},{"s":"US","t":1936,"v":1845},{"s":"US","t":1937,"v":1780},{"s":"US","t":1938,"v":1685},{"s":"US","t":1939,"v":1690},{"s":"US","t":1940,"v":1705},{"s":"US","t":1941,"v":1640},{"s":"US","t":1942,"v":1580},{"s":"US","t":1943,"v":1645},{"s":"US","t":1944,"v":1555},{"s":"US","t":1945,"v":1520},{"s":"US","t":1946,"v":1480},{"s":"US","t":1947,"v":1500},{"s":"US","t":1948,"v":1465},{"s":"US","t":1949,"v":1440},{"s":"US","t":1950,"v":1420},{"s":"US","t":1951,"v":1405},{"s":"US","t":1952,"v":1390},{"s":"US","t":1953,"v":1360},{"s":"US","t":1954,"v":1300},{"s":"US","t":1955,"v":1305},{"s":"US","t":1956,"v":1310},{"s":"US","t":1957,"v":1325},{"s":"US","t":1958,"v":1295},{"s":"US","t":1959,"v":1285},{"s":"US","t":1960,"v":1290},{"s":"US","t":1961,"v":1265},{"s":"US","t":1962,"v":1275},{"s":"US","t":1963,"v":1295},{"s":"US","t":1964,"v":1255},{"s":"US","t":1965,"v":1260},{"s":"US","t":1966,"v":1255},{"s":"US","t":1967,"v":1265},{"s":"US","t":1968,"v":1270},{"s":"US","t":1969,"v":1240},{"s":"US","t":1970,"v":1215},{"s":"US","t":1971,"v":1200},{"s":"US","t":1972,"v":1180},{"s":"US","t":1973,"v":1185},{"s":"US","t":1974,"v":1120},{"s":"US","t":1975,"v":1075},{"s":"US","t":1976,"v":1070},{"s":"US","t":1977,"v":1050},{"s":"US","t":1978,"v":1040},{"s":"US","t":1979,"v":1000},{"s":"US","t":1980,"v":1020},{"s":"US","t":1981,"v":996},{"s":"US","t":1982,"v":975},{"s":"US","t":1983,"v":981},{"s":"US","t":1984,"v":973},{"s":"US","t":1985,"v":979},{"s":"US","t":1986,"v":970},{"s":"US","t":1987,"v":962},{"s":"US","t":1988,"v":964},{"s":"US","t":1989,"v":934},{"s":"US","t":1990,"v":918},{"s":"US","t":1991,"v":905},{"s":"US","t":1992,"v":890},{"s":"US","t":1993,"v":908},{"s":"US","t":1994,"v":897},{"s":"US","t":1995,"v":892},{"s":"US","t":1996,"v":876},{"s":"US","t":1997,"v":864},{"s":"US","t":1998,"v":858},{"s":"US","t":1999,"v":862},{"s":"US","t":2000,"v":852},{"s":"US","t":2001,"v":846},{"s":"US","t":2002,"v":841},{"s":"US","t":2003,"v":832},{"s":"US","t":2004,"v":804},{"s":"US","t":2005,"v":806},{"s":"US","t":2006,"v":786},{"s":"US","t":2007,"v":767},{"s":"US","t":2008,"v":766},{"s":"US","t":2009,"v":741},{"s":"US","t":2010,"v":737},{"s":"US","t":2011,"v":734},{"s":"US","t":2012,"v":728},{"s":"US","t":2013,"v":728},{"s":"US","t":2014,"v":721},{"s":"US","t":2015,"v":731},{"s":"US","t":2016,"v":725},{"s":"US","t":2017,"v":731},{"s":"US","t":2018,"v":723},{"s":"US","t":2019,"v":716},{"s":"US","t":2020,"v":843},{"s":"US","t":2021,"v":850},
{"s":"Mean","t":1933,"v":1940},{"s":"Mean","t":1934,"v":1875},{"s":"Mean","t":1935,"v":1900},{"s":"Mean","t":1936,"v":1910},{"s":"Mean","t":1937,"v":1925},{"s":"Mean","t":1938,"v":1915},{"s":"Mean","t":1939,"v":1965},{"s":"Mean","t":1940,"v":2130},{"s":"Mean","t":1941,"v":2060},{"s":"Mean","t":1942,"v":1975},{"s":"Mean","t":1943,"v":1990},{"s":"Mean","t":1944,"v":2015},{"s":"Mean","t":1945,"v":1860},{"s":"Mean","t":1946,"v":1720},{"s":"Mean","t":1947,"v":1755},{"s":"Mean","t":1948,"v":1670},{"s":"Mean","t":1949,"v":1700},{"s":"Mean","t":1950,"v":1620},{"s":"Mean","t":1951,"v":1605},{"s":"Mean","t":1952,"v":1515},{"s":"Mean","t":1953,"v":1505},{"s":"Mean","t":1954,"v":1500},{"s":"Mean","t":1955,"v":1440},{"s":"Mean","t":1956,"v":1465},{"s":"Mean","t":1957,"v":1420},{"s":"Mean","t":1958,"v":1380},{"s":"Mean","t":1959,"v":1375},{"s":"Mean","t":1960,"v":1365},{"s":"Mean","t":1961,"v":1350},{"s":"Mean","t":1962,"v":1340},{"s":"Mean","t":1963,"v":1290},{"s":"Mean","t":1964,"v":1315},{"s":"Mean","t":1965,"v":1310},{"s":"Mean","t":1966,"v":1295},{"s":"Mean","t":1967,"v":1280},{"s":"Mean","t":1968,"v":1290},{"s":"Mean","t":1969,"v":1265},{"s":"Mean","t":1970,"v":1255},{"s":"Mean","t":1971,"v":1240},{"s":"Mean","t":1972,"v":1225},{"s":"Mean","t":1973,"v":1220},{"s":"Mean","t":1974,"v":1180},{"s":"Mean","t":1975,"v":1150},{"s":"Mean","t":1976,"v":1130},{"s":"Mean","t":1977,"v":1090},{"s":"Mean","t":1978,"v":1070},{"s":"Mean","t":1979,"v":1045},{"s":"Mean","t":1980,"v":1055},{"s":"Mean","t":1981,"v":1034},{"s":"Mean","t":1982,"v":1015},{"s":"Mean","t":1983,"v":1019},{"s":"Mean","t":1984,"v":982},{"s":"Mean","t":1985,"v":960},{"s":"Mean","t":1986,"v":935},{"s":"Mean","t":1987,"v":918},{"s":"Mean","t":1988,"v":906},{"s":"Mean","t":1989,"v":895},{"s":"Mean","t":1990,"v":880},{"s":"Mean","t":1991,"v":872},{"s":"Mean","t":1992,"v":860},{"s":"Mean","t":1993,"v":860},{"s":"Mean","t":1994,"v":830},{"s":"Mean","t":1995,"v":812},{"s":"Mean","t":1996,"v":790},{"s":"Mean","t":1997,"v":775},{"s":"Mean","t":1998,"v":764},{"s":"Mean","t":1999,"v":757},{"s":"Mean","t":2000,"v":729},{"s":"Mean","t":2001,"v":716},{"s":"Mean","t":2002,"v":717},{"s":"Mean","t":2003,"v":720},{"s":"Mean","t":2004,"v":682},{"s":"Mean","t":2005,"v":683},{"s":"Mean","t":2006,"v":652},{"s":"Mean","t":2007,"v":642},{"s":"Mean","t":2008,"v":628},{"s":"Mean","t":2009,"v":618},{"s":"Mean","t":2010,"v":609},{"s":"Mean","t":2011,"v":604},{"s":"Mean","t":2012,"v":598},{"s":"Mean","t":2013,"v":586},{"s":"Mean","t":2014,"v":574},{"s":"Mean","t":2015,"v":581},{"s":"Mean","t":2016,"v":568},{"s":"Mean","t":2017,"v":566},{"s":"Mean","t":2018,"v":561},{"s":"Mean","t":2019,"v":551},{"s":"Mean","t":2020,"v":591},{"s":"Mean","t":2021,"v":571}
]},
"spacing": 56,
"vconcat": [
 {
  "title": {"text": "A", "anchor": "start", "frame": "bounds", "font": "Liberation Sans", "fontSize": 34, "fontWeight": "bold", "color": "#000000", "baseline": "alphabetic", "offset": -55, "dx": -4},
  "vconcat": [
   {
    "title": {"text": "1933-2021", "anchor": "middle", "font": "Liberation Serif", "fontSize": 29, "fontWeight": "bold", "color": "#000000", "baseline": "alphabetic", "offset": 1, "dx": -13},
    "width": 786, "height": 486,
    "data": {"name": "d"},
    "encoding": {
      "x": {"field": "t", "type": "quantitative", "scale": {"domain": [1931.6, 2022.4], "nice": false, "zero": false}, "axis": {"values": [1940, 1960, 1980, 2000, 2020], "format": "d", "title": "Year"}},
      "y": {"field": "v", "type": "quantitative", "scale": {"domain": [393, 2871], "nice": false, "zero": false}, "axis": {"values": [500, 1000, 1500, 2000, 2500], "format": "d", "title": "Deaths per 100K"}}
    },
    "layer": [
      {"transform": [{"filter": "datum.s != 'US' && datum.s != 'Mean'"}], "mark": {"type": "line", "color": "#a3a3a3", "strokeWidth": 1.2}, "encoding": {"detail": {"field": "s"}}},
      {"transform": [{"filter": "datum.s == 'US'"}], "mark": {"type": "line", "color": "#8b2c36", "strokeWidth": 3.5}},
      {"transform": [{"filter": "datum.s == 'Mean'"}], "mark": {"type": "line", "color": "#666666", "strokeWidth": 4, "strokeDash": [10, 6]}}
    ]
   }
  ]
 },
 {
  "title": {"text": "B", "anchor": "start", "frame": "bounds", "font": "Liberation Sans", "fontSize": 34, "fontWeight": "bold", "color": "#000000", "baseline": "alphabetic", "offset": -55, "dx": -4},
  "vconcat": [
   {
    "title": {"text": "1980-2021", "anchor": "middle", "font": "Liberation Serif", "fontSize": 29, "fontWeight": "bold", "color": "#000000", "baseline": "alphabetic", "offset": 1, "dx": -13},
    "width": 788, "height": 489,
    "data": {"name": "d"},
    "transform": [{"filter": "datum.t >= 1980"}],
    "encoding": {
      "x": {"field": "t", "type": "quantitative", "scale": {"domain": [1979.3, 2021.7], "nice": false, "zero": false}, "axis": {"values": [1980, 1990, 2000, 2010, 2020], "format": "d", "title": "Year"}},
      "y": {"field": "v", "type": "quantitative", "scale": {"domain": [376, 1292], "nice": false, "zero": false}, "axis": {"values": [400, 600, 800, 1000, 1200], "format": "d", "title": "Deaths per 100K"}}
    },
    "layer": [
      {"transform": [{"filter": "datum.s != 'US' && datum.s != 'Mean'"}], "mark": {"type": "line", "color": "#a3a3a3", "strokeWidth": 1.2}, "encoding": {"detail": {"field": "s"}}},
      {"transform": [{"filter": "datum.s == 'US'"}], "mark": {"type": "line", "color": "#8b2c36", "strokeWidth": 3.5}},
      {"transform": [{"filter": "datum.s == 'Mean'"}], "mark": {"type": "line", "color": "#666666", "strokeWidth": 4, "strokeDash": [10, 6]}}
    ]
   }
  ]
 }
]
}
